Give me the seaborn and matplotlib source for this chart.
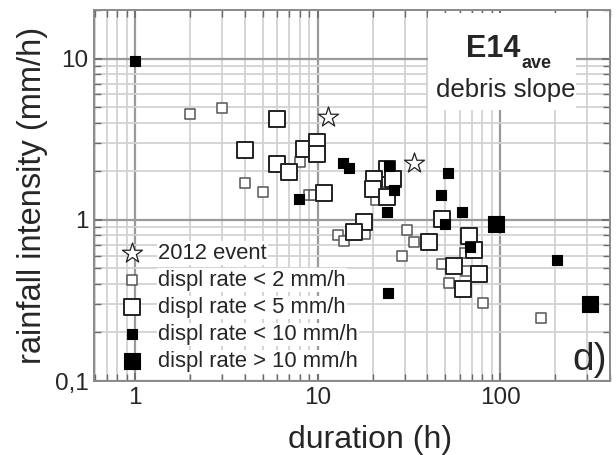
import numpy as np
import pandas as pd
import matplotlib
matplotlib.use("Agg")
import matplotlib.pyplot as plt
from matplotlib.patches import Rectangle
from matplotlib.ticker import FixedLocator, FixedFormatter, LogLocator, NullFormatter
import seaborn as sns

# Rainfall events: duration (h) vs mean rainfall intensity (mm/h), grouped by displacement rate
event2012_dur = [11.4, 33.8]
event2012_int = [4.34, 2.24]

lt2_dur = [2.0, 3.0, 4.0, 5.0, 8.0, 9.0, 9.6, 21.0, 23.5, 13.0, 13.9, 18.2, 30.9,
           33.8, 28.9, 64.6, 48.1, 64.8, 52.5, 80.6, 167.0]
lt2_int = [4.5, 4.9, 1.70, 1.49, 2.28, 1.43, 1.43, 1.33, 1.72, 0.80, 0.735, 0.816, 0.868,
           0.732, 0.594, 0.623, 0.535, 0.482, 0.407, 0.306, 0.245]

lt5_dur = [6.0, 4.0, 6.0, 7.0, 8.45, 9.95, 9.95, 10.9, 24.0, 25.9, 20.3, 20.0, 23.9,
           18.0, 15.9, 40.8, 48.1, 67.6, 71.7, 55.7, 76.7, 62.6]
lt5_int = [4.2, 2.69, 2.23, 1.97, 2.74, 3.04, 2.56, 1.47, 2.06, 1.78, 1.78, 1.55, 1.39,
           0.962, 0.835, 0.724, 1.01, 0.789, 0.646, 0.515, 0.459, 0.370]

lt10_dur = [1.0, 7.93, 13.8, 14.9, 24.6, 26.1, 23.9, 51.9, 47.7, 61.9, 50.2, 68.8, 205.0, 24.3]
lt10_int = [9.7, 1.35, 2.26, 2.10, 2.15, 1.52, 1.12, 1.94, 1.43, 1.12, 0.945, 0.675, 0.566, 0.353]

gt10_dur = [95.5, 309.0]
gt10_int = [0.945, 0.302]

x_ticks = [1, 10, 100]
x_ticklabels = ["1", "10", "100"]
y_ticks = [0.1, 1, 10]
y_ticklabels = ["0,1", "1", "10"]

sns.set_theme(style="white")
plt.rcParams["font.family"] = ["Liberation Sans", "DejaVu Sans"]

fig = plt.figure(figsize=(6.16, 4.55), dpi=100)
ax = fig.add_axes([0.1526, 0.1626, 0.8377, 0.8154])
ax.set_xscale("log")
ax.set_yscale("log")
ax.set_xlim(0.596, 400)
ax.set_ylim(0.1, 20)

# grid: decades darker, sub-decades lighter
ax.xaxis.set_minor_locator(LogLocator(base=10, subs=np.arange(2, 10)))
ax.yaxis.set_minor_locator(LogLocator(base=10, subs=np.arange(2, 10)))
ax.xaxis.set_minor_formatter(NullFormatter())
ax.yaxis.set_minor_formatter(NullFormatter())
ax.grid(True, which="major", color="#9a9a9a", lw=1.6, zorder=0)
ax.grid(True, which="minor", color="#d2d2d2", lw=1.3, zorder=0)
ax.set_axisbelow(True)

groups = [
    (lt2_dur, lt2_int, dict(marker="s", s=42, facecolor="white", edgecolor="#555555", linewidth=1.1),
     "displ rate < 2 mm/h"),
    (lt5_dur, lt5_int, dict(marker="s", s=118, facecolor="white", edgecolor="#222222", linewidth=1.4),
     "displ rate < 5 mm/h"),
    (lt10_dur, lt10_int, dict(marker="s", s=44, facecolor="black", edgecolor="black", linewidth=0.8),
     "displ rate < 10 mm/h"),
    (gt10_dur, gt10_int, dict(marker="s", s=125, facecolor="black", edgecolor="black", linewidth=0.8),
     "displ rate > 10 mm/h"),
]

sns.scatterplot(x=event2012_dur, y=event2012_int, ax=ax, marker="*", s=230,
                facecolor="white", edgecolor="#222222", linewidth=0.9, zorder=5,
                label="2012 event")
for dur, inten, kw, lab in groups:
    sns.scatterplot(x=dur, y=inten, ax=ax, zorder=4, label=lab, **kw)

for sp in ax.spines.values():
    sp.set_color("#8a8a8a")
    sp.set_linewidth(1.4)

ax.xaxis.set_major_locator(FixedLocator(x_ticks))
ax.xaxis.set_major_formatter(FixedFormatter(x_ticklabels))
ax.yaxis.set_major_locator(FixedLocator(y_ticks))
ax.yaxis.set_major_formatter(FixedFormatter(y_ticklabels))
ax.tick_params(which="both", direction="in", top=True, right=True, bottom=True, left=True,
               color="#6a6a6a")
ax.tick_params(which="major", length=6, width=1.2, labelsize=17.5, pad=4)
ax.tick_params(which="minor", length=5, width=1.0)

ax.set_xlabel("duration (h)", fontsize=23, labelpad=8)
ax.xaxis.set_label_coords(0.535, -0.118)
ax.xaxis.label.set_va("top")
ax.set_ylabel("rainfall intensity (mm/h)", fontsize=23.5, labelpad=5)

leg = ax.legend(loc="lower left", bbox_to_anchor=(0.035, 0.0), frameon=False, fontsize=15.8,
                handlelength=1.0, handletextpad=0.7, labelspacing=0.28, borderaxespad=0)
for t in leg.get_texts():
    t.set_bbox(dict(facecolor="white", edgecolor="none", pad=1))

# station label on a white panel
ax.add_patch(Rectangle((0.647, 0.730), 0.287, 0.262, transform=ax.transAxes,
                       facecolor="white", edgecolor="none", zorder=6))
ax.text(0.826, 0.873, "E14", transform=ax.transAxes, ha="right", va="baseline",
        fontsize=22, fontweight="bold", zorder=7)
ax.text(0.829, 0.843, "ave", transform=ax.transAxes, ha="left", va="baseline",
        fontsize=13, fontweight="bold", zorder=7)
ax.text(0.798, 0.765, "debris slope", transform=ax.transAxes, ha="center", va="baseline",
        fontsize=18.6, zorder=7)

ax.text(0.994, 0.03, "d)", transform=ax.transAxes, ha="right", va="baseline", fontsize=28)

fig.savefig("out.png", dpi=100)
